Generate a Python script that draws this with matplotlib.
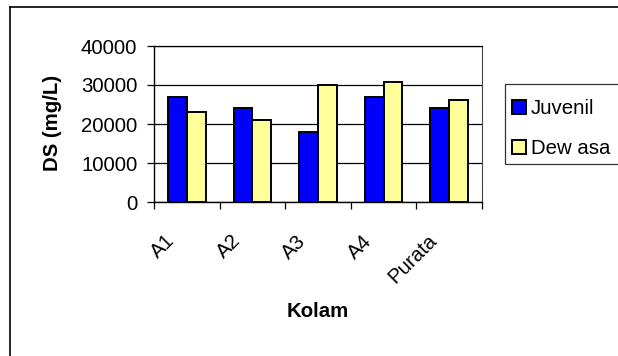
import matplotlib
matplotlib.use("Agg")
import matplotlib.pyplot as plt
import numpy as np
from matplotlib.patches import Patch, Rectangle
from matplotlib.lines import Line2D
from matplotlib.transforms import ScaledTranslation

categories = ["A1", "A2", "A3", "A4", "Purata"]
juvenil = [27000, 24000, 18000, 27000, 24000]
dewasa = [23000, 21000, 29900, 30700, 26100]
yticks = [0, 10000, 20000, 30000, 40000]
series_names = ["Juvenil", "Dew asa"]
colors = ["#0000FF", "#FFFF99"]

plt.rcParams["font.family"] = ["Liberation Sans", "DejaVu Sans"]
FS = 14.7
DPI = 100
W, H = 618, 356

fig = plt.figure(figsize=(W / DPI, H / DPI), dpi=DPI)
fig.patch.set_facecolor("white")

def px(x0, y0):
    return x0 / W, 1 - y0 / H

L, R, T, B = 154, 482, 46, 202
ax = fig.add_axes([L / W, 1 - B / H, (R - L) / W, (B - T) / H])

x = np.arange(len(categories))
bw = 0.2857
ax.bar(x - bw / 2, juvenil, bw, color=colors[0], edgecolor="black", linewidth=1.4, zorder=3)
ax.bar(x + bw / 2, dewasa, bw, color=colors[1], edgecolor="black", linewidth=1.4, zorder=3)

ax.set_xlim(-0.5, len(categories) - 0.5)
ax.set_ylim(0, 40000)
ax.set_yticks(yticks)
ax.set_yticklabels([str(v) for v in yticks], fontsize=FS)
ax.yaxis.grid(True, color="black", linewidth=0.9, zorder=0)
ax.set_axisbelow(True)

# category boundary ticks
ax.set_xticks(np.arange(-0.5, len(categories), 1.0))
ax.set_xticklabels([])
ax.tick_params(axis="x", direction="out", length=5, width=0.9, color="black")
ax.tick_params(axis="y", direction="out", length=5, width=0.9, pad=7, color="black")

for s in ["left", "bottom"]:
    ax.spines[s].set_linewidth(1.0)
    ax.spines[s].set_color("black")
ax.spines["top"].set_linewidth(0.9)
ax.spines["right"].set_linewidth(0.8)
ax.spines["right"].set_color("#444444")

# rotated category labels
off = ScaledTranslation(-15 / DPI, 0, fig.dpi_scale_trans)
for xi, c in zip(x, categories):
    ax.text(xi, -(238 - B) / (B - T), c, transform=ax.get_xaxis_transform() + off,
            rotation=45, ha="right", va="center", rotation_mode="anchor", fontsize=FS)

ax.set_xlabel("Kolam", fontsize=FS, fontweight="bold")
ax.xaxis.set_label_coords(0.5, -(311 - B) / (B - T))
ax.xaxis.label.set_va("center")
ax.set_ylabel("DS (mg/L)", fontsize=FS, fontweight="bold")
ax.yaxis.set_label_coords((52.5 - L) / (R - L), (B - 123.3) / (B - T))
ax.yaxis.label.set_va("center")

# outer chart border (left and top visible)
fig.add_artist(Line2D([10 / W, 10 / W], [1 - 7 / H, 0], transform=fig.transFigure,
                      color="black", linewidth=1.2))
fig.add_artist(Line2D([10 / W, 1.0], [1 - 7 / H, 1 - 7 / H], transform=fig.transFigure,
                      color="black", linewidth=1.2))

# legend box
fig.add_artist(Rectangle(px(505, 164), (700 - 505) / W, (164 - 84) / H,
                         transform=fig.transFigure, facecolor="white",
                         edgecolor="#333333", linewidth=0.9, clip_on=False))
handles = [Patch(facecolor=colors[0], edgecolor="black", linewidth=1.4),
           Patch(facecolor=colors[1], edgecolor="black", linewidth=1.4)]
fig.legend(handles, series_names, loc="upper left", bbox_to_anchor=px(512, 99),
           bbox_transform=fig.transFigure, frameon=False, fontsize=FS,
           handlelength=0.68, handleheight=0.66, handletextpad=0.25,
           labelspacing=1.05, borderpad=0, borderaxespad=0)

fig.savefig("out.png", dpi=DPI)
